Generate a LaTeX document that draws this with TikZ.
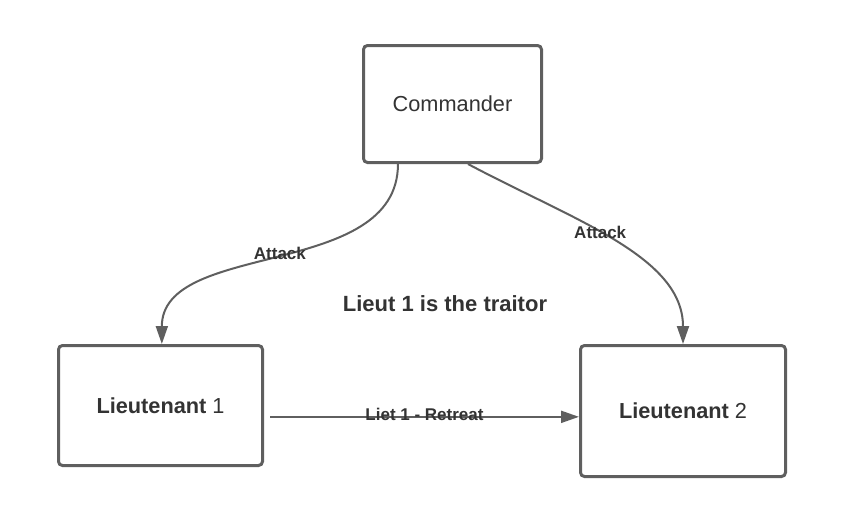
\documentclass[tikz,border=0pt]{standalone}
\usepackage{fontspec}
\setmainfont{Liberation Sans}
\usetikzlibrary{arrows.meta}
\definecolor{linegray}{HTML}{5F5F5F}
\definecolor{textgray}{HTML}{333333}

\begin{document}
\begin{tikzpicture}[x=0.75pt,y=-0.75pt,
    conn/.style={draw=linegray,line width=1.5pt,-{Triangle[length=13.5pt,width=9pt]}},
    edgelabel/.style={text=textgray,font=\fontsize{12.75}{15}\selectfont\bfseries,inner sep=1pt}]
    \tikzset{box/.style={rectangle,draw=linegray,line width=2.25pt,rounded corners=3pt,text=textgray,font=\fontsize{16.3}{19}\selectfont}}
    \useasboundingbox (0,0) rectangle (845,522);

    \node [box,minimum width=133.5pt,minimum height=87.75pt] (cmd) at (452.5,104) {Commander};
    \node [box,minimum width=153pt,minimum height=90pt] (lt1) at (160.5,405.5) {\textbf{Lieutenant} 1};
    \node [box,minimum width=153.75pt,minimum height=98.25pt] (lt2) at (683,411) {\textbf{Lieutenant} 2};

    \node [text=textgray,font=\fontsize{16.5}{20}\selectfont\bfseries] (traitor) at (445,304) {Lieut 1 is the traitor};

    \draw [conn] ([xshift=-40.9pt]cmd.south) to[out=-90,in=90,in looseness=0.9] node[edgelabel,pos=0.5,yshift=4pt] {Attack} ([xshift=1pt]lt1.north);
    \draw [conn] ([xshift=11.6pt]cmd.south) to[out=-28,in=90,out looseness=1.1,in looseness=0.8] node[edgelabel,pos=0.44] {Attack} (lt2.north);

    \coordinate (retreat) at ([xshift=4.5pt,yshift=-8.5pt]lt1.east);
    \draw [conn] (retreat) -- (retreat -| lt2.west) node[edgelabel,midway,yshift=2pt] {Liet 1 - Retreat};
\end{tikzpicture}
\end{document}
